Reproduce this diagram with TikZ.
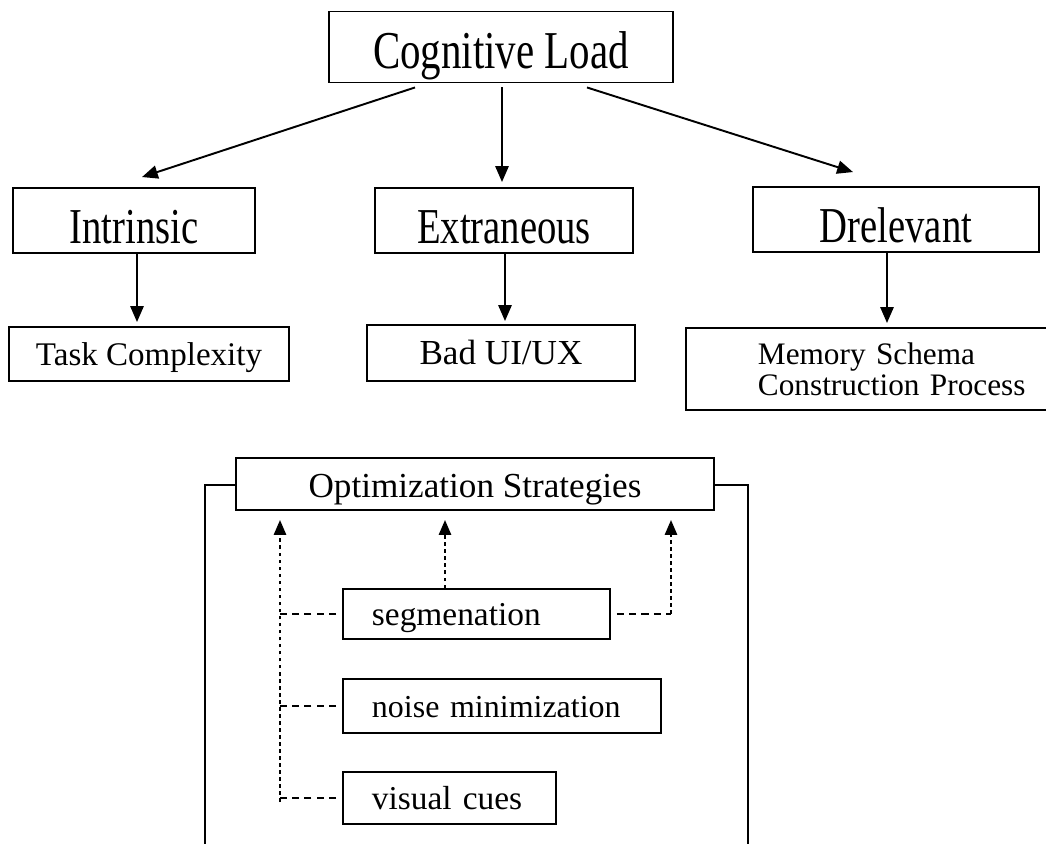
\documentclass[tikz,border=0pt]{standalone}
\usepackage{graphicx}
\usepackage{fontspec}
\setmainfont{Liberation Serif}
\usetikzlibrary{arrows.meta}

\newcommand{\stretchtext}[1]{\scalebox{1}[1.3]{#1}}

\begin{document}
\begin{tikzpicture}[x=0.02cm, y=-0.02cm,
    box/.style={draw, line width=1.1pt, inner sep=0pt, text depth=0pt},
    topbox/.style={box, text height=0.9cm, font=\fontsize{22}{26}\selectfont},
    leafbox/.style={box, text height=0.45cm},
    sbox/.style={box, anchor=west, inner xsep=0.58cm, align=left,
      text height=0.46cm, font=\fontsize{19}{22}\selectfont},
    arr/.style={line width=1.1pt, -{Triangle[length=9pt, width=7.5pt]}},
    dotarr/.style={line width=1.1pt, dash pattern=on 2pt off 2pt,
      -{Triangle[length=8.5pt, width=7pt]}},
    dashline/.style={line width=0.9pt, dash pattern=on 4pt off 3pt}]

    \useasboundingbox (0,0) rectangle (1046,843);

    \node[box, minimum width=6.88cm, minimum height=1.42cm, text height=0.84cm,
      font=\fontsize{23.3}{26}\selectfont] (cog) at (501,47)
      {\stretchtext{Cognitive Load}};

    \node[topbox, minimum width=4.84cm, minimum height=1.3cm] (intr)
      at (134,220.5) {\stretchtext{Intrinsic}};
    \node[topbox, minimum width=5.16cm, minimum height=1.3cm] (ext)
      at (504,220.5) {\stretchtext{Extraneous}};
    \node[topbox, minimum width=5.72cm, minimum height=1.3cm] (drel)
      at (896,219.5) {\stretchtext{Drelevant}};

    \node[leafbox, minimum width=5.6cm, minimum height=1.08cm,
      font=\fontsize{18.8}{22}\selectfont] (task) at (149,354) {Task Complexity};
    \node[leafbox, minimum width=5.36cm, minimum height=1.12cm,
      font=\fontsize{20}{22}\selectfont] (bad) at (501,353) {Bad UI/UX};
    \node[draw, line width=1.1pt, anchor=north west, inner xsep=1.44cm,
      minimum height=1.64cm, text width=5.9cm, align=left,
      font=\fontsize{17.8}{17.6}\selectfont] (mem) at (685,327)
      {Memory Schema\\Construction Process};

    \draw[arr] ([shift={(-86,4)}]cog.south) -- ([shift={(8,-10)}]intr.north);
    \draw[arr] ([shift={(1,4)}]cog.south) -- ([shift={(-2,-5)}]ext.north);
    \draw[arr] ([shift={(86,4)}]cog.south) -- ([shift={(-43,-14)}]drel.north);

    \draw[arr] ([xshift=0.06cm]intr.south) -- ([shift={(-12,-4)}]task.north);
    \draw[arr] ([xshift=0.02cm]ext.south) -- ([shift={(4,-3)}]bad.north);
    \draw[arr] ([xshift=-0.18cm]drel.south) coordinate (dd)
      -- ([yshift=0.08cm]dd |- mem.north);

    \node[box, minimum width=9.56cm, minimum height=1.04cm, text height=0.52cm,
      font=\fontsize{20}{24}\selectfont] (opt) at (475,484) {Optimization Strategies};
    \draw[line width=1.1pt] ([yshift=-0.02cm]opt.west) -| (205,850);
    \draw[line width=1.1pt] ([yshift=-0.02cm]opt.east) -| (748,850);

    \node[sbox, text width=4.18cm, minimum height=1.0cm] (seg) at (342,614)
      {\mbox{segmenation}};
    \node[sbox, text width=5.2cm, minimum height=1.08cm,
      font=\fontsize{18.2}{22}\selectfont] (noise) at (342,706)
      {\mbox{noise minimization}};
    \node[sbox, text width=3.1cm, minimum height=1.04cm] (vis) at (342,798)
      {\mbox{visual cues}};

    \coordinate (lane) at (280,520);
    \coordinate (mid) at (445,520);
    \coordinate (rgt) at (671,520);

    \foreach \n in {seg,noise,vis}
      \draw[dashline] ([xshift=-0.12cm]\n.west) -- (\n.west -| lane);
    \draw[dotarr] ([yshift=-0.08cm]vis.west -| lane) -- (lane);
    \draw[dotarr] (seg.north -| mid) -- (mid);
    \draw[dashline] ([xshift=0.12cm]seg.east) -- (seg.east -| rgt);
    \draw[dotarr] (seg.east -| rgt) -- (rgt);

\end{tikzpicture}
\end{document}
